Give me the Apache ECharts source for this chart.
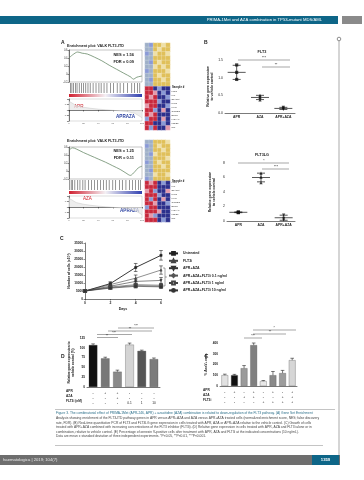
<!DOCTYPE html>
<html><head><meta charset="utf-8">
<script src="https://cdn.jsdelivr.net/npm/echarts@6/dist/echarts.min.js"></script>
<style>html,body{margin:0;padding:0;background:#fff}#c{width:364px;height:480px}</style>
</head><body><div id="c"></div>
<script>
// ---------- DATA ----------
// Panel A: GSEA running enrichment score (rank position %, ES)
const esX = [0, 5, 12, 18, 25, 35, 45, 55, 65, 75, 85, 88, 93, 100];
const esA1 = [0.40, 0.48, 0.55, 0.52, 0.50, 0.42, 0.33, 0.22, 0.12, 0.02, -0.08, -0.13, -0.08, -0.05];
const esX2 = [0, 5, 10, 20, 30, 40, 50, 60, 70, 78, 84, 90, 95, 100];
const esA2 = [0.52, 0.58, 0.55, 0.46, 0.38, 0.30, 0.22, 0.13, 0.04, -0.05, -0.11, -0.02, 0.08, 0.12];
const hitsA1 = [2, 4, 6, 9, 11, 14, 17, 20, 23, 26, 29, 33, 37, 41, 44, 48, 52, 57, 61, 66, 70, 75, 80, 86, 90, 94, 97];
const hitsA2 = [1, 3, 5, 8, 12, 15, 19, 22, 27, 31, 35, 39, 43, 47, 51, 55, 60, 64, 69, 73, 78, 83, 87, 91, 95, 98];
const metricX = [0, 10, 20, 30, 40, 50, 60, 70, 80, 90, 100];
const metricA = [0.8, 0.4, 0.25, 0.15, 0.08, 0.02, -0.03, -0.08, -0.15, -0.3, -0.7];
const nesA = ['NES = 1.56', 'NES = 1.25'];
const fdrA = ['FDR = 0.09', 'FDR = 0.11'];
// heatmap codes (row x col)
const heatA1 = [
  [0,6,1,1,2,1],[0,0,1,2,1,1],[6,0,2,1,1,2],[0,0,1,1,1,1],[0,6,1,2,1,1],
  [0,0,2,1,2,1],[6,0,1,1,1,2],[0,0,1,2,1,1],[0,6,1,1,2,1],[0,0,1,1,1,1],
  [3,3,4,6,4,4],[3,3,5,4,6,4],[3,5,3,4,4,6],[3,3,3,6,4,4],[5,3,3,4,4,6],
  [3,3,6,4,5,4],[3,5,3,4,4,4],[6,3,3,4,5,4],[3,3,4,4,6,4],[3,6,3,4,4,5]
];
const heatA2 = [
  [0,0,1,1,1,2],[6,0,1,2,1,1],[0,0,1,1,2,1],[0,6,2,1,1,1],[0,0,1,1,1,2],
  [6,0,1,2,1,1],[0,0,1,1,2,1],[0,6,1,1,1,1],[0,0,2,1,1,2],[6,0,1,1,1,1],
  [3,5,3,4,6,4],[3,3,3,4,4,4],[5,3,6,4,4,5],[3,3,3,6,4,4],[3,6,3,4,5,4],
  [3,3,5,4,4,6],[6,3,3,4,4,4],[3,3,3,5,4,4],[3,5,6,4,4,4],[3,3,3,4,6,4]
];
const heatGenes = ['FLT3','KIT','STAT5A','PIM1','MYC','CCND2','BCL2','HOXA9','MEIS1','ID1'];

// Panel B
const bCats = ['APR', 'AZA', 'APR+AZA'];
const b1Apr = [1.36, 1.15, 0.95], b1Aza = [0.50, 0.44, 0.37], b1Combo = [0.16, 0.13, 0.10];
const b1Mean = [1.15, 0.44, 0.13], b1Sd = [0.20, 0.06, 0.03];
const b2Apr = [1.25, 1.2, 1.15], b2Aza = [6.6, 6.05, 5.3], b2Combo = [0.83, 0.37, 0.14];
const b2Mean = [1.2, 6.0, 0.45], b2Sd = [0.05, 0.6, 0.35];

// Panel C
const days = [0, 2, 4, 6];
const cNames = ['Untreated', 'FLT3i', 'APR+AZA', 'APR+AZA+FLT3i 0.1 ng/ml', 'APR+AZA+FLT3i 1 ng/ml', 'APR+AZA+FLT3i 10 ng/ml'];
const cUntreated = [5000, 9600, 19700, 27300];
const cFlt3i = [5000, 9000, 13000, 18100];
const cAprAza = [5000, 8000, 11000, 11600];
const cCombo01 = [5000, 7500, 9000, 8600];
const cCombo1 = [5000, 7100, 8400, 8000];
const cCombo10 = [5000, 6800, 7900, 7600];
const cErrUntreated = [0, 1200, 2500, 3000];
const cErrFlt3i = [0, 900, 2000, 2600];
const cErrAprAza = [0, 800, 1500, 1800];
const cErrCombo = [0, 600, 1000, 1000];

// Panel D
const dApr = ['-', '+', '+', '-', '-', '-'];
const dAza = ['-', '-', '+', '-', '-', '-'];
const dFlt = ['-', '-', '-', '0.1', '1', '10'];
const dValues = [107, 73, 39, 108, 92, 71];
const dErr = [3, 3, 4, 4, 2, 3];

// Panel E
const eApr = ['-', '+', '-', '+', '-', '+', '-', '+'];
const eAza = ['-', '-', '+', '+', '-', '-', '+', '+'];
const eFlt = ['-', '-', '-', '-', '+', '+', '+', '+'];
const eValues = [100, 100, 165, 380, 45, 100, 120, 240];
const eErr = [10, 8, 25, 20, 6, 35, 25, 18];

// ---------- STYLES ----------
const FONT = 'Liberation Sans';
const dColors = ['#111', '#777', '#8a8a8a', '#d4d4d4', '#555', '#7b7b7b'];
const eColors = ['#e2e2e2', '#111', '#9a9a9a', '#808080', '#e8e8e8', '#8a8a8a', '#9c9c9c', '#d6d6d6'];
const heatColors = ['#9fb0c8', '#e0c05a', '#efe0a8', '#c8283c', '#2c2f8c', '#e49aac', '#8a9ad6'];
const cSymbols = ['rect', 'triangle', 'path://M0,0L10,0L5,10Z', 'diamond', 'emptyRect', 'circle'];

const chart = echarts.init(document.getElementById('c'), null, {renderer: 'canvas'});

const axisBase = {
  axisLine: {lineStyle: {color: '#222', width: 0.6}},
  axisTick: {lineStyle: {color: '#222', width: 0.5}, length: 1.5},
  axisLabel: {fontSize: 3.4, color: '#222', fontFamily: FONT, margin: 2},
  splitLine: {show: false}
};
function ax(extra) { return Object.assign({}, JSON.parse(JSON.stringify(axisBase)), extra); }

const grid = [], xAxis = [], yAxis = [], series = [];

// A panels
function addGsea(gTop, esXs, esYs, hits, heat, hmTop, hmH) {
  const g0 = grid.length;
  grid.push({left: 69, top: gTop, width: 73, height: 32, show: true, borderColor: '#888', borderWidth: 0.5});
  xAxis.push(ax({gridIndex: g0, type: 'value', min: 0, max: 100, show: false}));
  yAxis.push(ax({gridIndex: g0, type: 'value', min: -0.2, max: 0.6, interval: 0.2,
    axisLabel: {fontSize: 2.6, color: '#444', margin: 1.5, fontFamily: FONT}}));
  series.push({type: 'line', xAxisIndex: g0, yAxisIndex: g0, data: esXs.map((x, i) => [x, esYs[i]]),
    symbol: 'none', lineStyle: {color: '#6a8a6a', width: 0.8}, smooth: 0.3});
  const g1 = grid.length;
  grid.push({left: 69, top: gTop + 33, width: 73, height: 10});
  xAxis.push({gridIndex: g1, type: 'value', min: 0, max: 100, show: false});
  yAxis.push({gridIndex: g1, type: 'value', min: 0, max: 1, show: false});
  series.push({type: 'scatter', xAxisIndex: g1, yAxisIndex: g1, data: hits.map(h => [h, 0.5]),
    symbol: 'rect', symbolSize: [0.6, 10], itemStyle: {color: '#222'}});
  const g2 = grid.length;
  grid.push({left: 69, top: gTop + 49, width: 73, height: 22, show: true, borderColor: '#aaa', borderWidth: 0.4});
  xAxis.push(ax({gridIndex: g2, type: 'value', min: 0, max: 100, interval: 20,
    axisLabel: {fontSize: 2.4, color: '#555', margin: 1, fontFamily: FONT}}));
  yAxis.push(ax({gridIndex: g2, type: 'value', min: -1, max: 1, interval: 0.5,
    axisLabel: {fontSize: 2.4, color: '#555', margin: 1, fontFamily: FONT}}));
  series.push({type: 'line', xAxisIndex: g2, yAxisIndex: g2, data: metricX.map((x, i) => [x, metricA[i]]),
    symbol: 'none', lineStyle: {color: '#bbb', width: 0.4}, areaStyle: {color: '#e6e6e6'}});
  const g3 = grid.length;
  grid.push({left: 145, top: hmTop, width: 25, height: hmH});
  xAxis.push({gridIndex: g3, type: 'category', data: [0,1,2,3,4,5], show: false});
  yAxis.push({gridIndex: g3, type: 'category', data: heat.map((r, i) => i), inverse: true, show: false});
  const hd = [];
  heat.forEach((row, r) => row.forEach((v, c) => hd.push([c, r, v])));
  series.push({type: 'heatmap', xAxisIndex: g3, yAxisIndex: g3, data: hd,
    itemStyle: {borderColor: '#fff', borderWidth: 0.2}});
  return series.length - 1;
}
const hm1 = addGsea(50, esX, esA1, hitsA1, heatA1, 43, 87);
const hm2 = addGsea(147, esX2, esA2, hitsA2, heatA2, 140, 82);

// mean/SD renderer
function meanSd(params, api) {
  const c = api.coord([api.value(0), api.value(1)]);
  const hi = api.coord([api.value(0), api.value(1) + api.value(2)]);
  const lo = api.coord([api.value(0), api.value(1) - api.value(2)]);
  const s = {stroke: '#111', lineWidth: 0.7};
  return {type: 'group', children: [
    {type: 'line', shape: {x1: c[0] - 9, y1: c[1], x2: c[0] + 9, y2: c[1]}, style: s},
    {type: 'line', shape: {x1: c[0], y1: hi[1], x2: c[0], y2: lo[1]}, style: s},
    {type: 'line', shape: {x1: c[0] - 4, y1: hi[1], x2: c[0] + 4, y2: hi[1]}, style: s},
    {type: 'line', shape: {x1: c[0] - 4, y1: lo[1], x2: c[0] + 4, y2: lo[1]}, style: s}
  ]};
}
function addDot(left, top, w, h, max, interval, pts, mean, sd, fmt) {
  const g = grid.length;
  grid.push({left, top, width: w, height: h});
  xAxis.push(ax({gridIndex: g, type: 'category', data: bCats, axisTick: {show: false},
    axisLabel: {fontSize: 3.4, color: '#222', fontFamily: FONT, fontWeight: 'bold', margin: 3}}));
  yAxis.push(ax({gridIndex: g, type: 'value', min: 0, max, interval,
    axisLabel: {fontSize: 3.4, color: '#222', fontFamily: FONT, margin: 2, formatter: fmt},
    name: 'Relative gene expression\nto vehicle control', nameLocation: 'middle', nameGap: 11,
    nameTextStyle: {fontSize: 3.4, fontWeight: 'bold', fontFamily: FONT, color: '#222', lineHeight: 4}}));
  const syms = ['rect', 'triangle', 'path://M0,0L10,0L5,10Z'];
  pts.forEach((arr, i) => series.push({type: 'scatter', xAxisIndex: g, yAxisIndex: g, symbol: syms[i], symbolSize: 3.2,
    data: arr.map(v => [i, v]), itemStyle: {color: '#111'}}));
  series.push({type: 'custom', xAxisIndex: g, yAxisIndex: g, renderItem: meanSd,
    data: mean.map((m, i) => [i, m, sd[i]]), encode: {x: 0, y: 1}, z: 5});
}
addDot(225, 60, 70, 53, 1.5, 0.5, [b1Apr, b1Aza, b1Combo], b1Mean, b1Sd, v => v.toFixed(1));
addDot(227, 163, 68, 58, 8, 2, [b2Apr, b2Aza, b2Combo], b2Mean, b2Sd, v => String(v));

// error bar renderer
function errBar(upperOnly) {
  return function (params, api) {
    const x = api.value(0), y = api.value(1), e = api.value(2);
    const hi = api.coord([x, y + e]), lo = api.coord([x, upperOnly ? y : y - e]);
    const s = {stroke: '#111', lineWidth: 0.55};
    const ch = [
      {type: 'line', shape: {x1: hi[0], y1: hi[1], x2: lo[0], y2: lo[1]}, style: s},
      {type: 'line', shape: {x1: hi[0] - 1.8, y1: hi[1], x2: hi[0] + 1.8, y2: hi[1]}, style: s}];
    if (!upperOnly) ch.push({type: 'line', shape: {x1: lo[0] - 1.8, y1: lo[1], x2: lo[0] + 1.8, y2: lo[1]}, style: s});
    return {type: 'group', children: ch};
  };
}

// Panel C
const gC = grid.length;
grid.push({left: 85, top: 243, width: 76, height: 56});
xAxis.push(ax({gridIndex: gC, type: 'value', min: 0, max: 6, interval: 2, name: 'Days', nameLocation: 'middle', nameGap: 8,
  nameTextStyle: {fontSize: 3.6, fontWeight: 'bold', fontFamily: FONT, color: '#222'},
  axisLabel: {fontSize: 3.4, color: '#222', fontFamily: FONT, margin: 3, fontWeight: 'bold'}}));
yAxis.push(ax({gridIndex: gC, type: 'value', min: 0, max: 35000, interval: 5000,
  name: 'Number of cells (x10³)', nameLocation: 'middle', nameGap: 13,
  nameTextStyle: {fontSize: 3.4, fontWeight: 'bold', fontFamily: FONT, color: '#222'},
  axisLabel: {fontSize: 3.2, color: '#222', fontFamily: FONT, margin: 2, fontWeight: 'bold', formatter: v => String(v)}}));
const cSeries = [cUntreated, cFlt3i, cAprAza, cCombo01, cCombo1, cCombo10];
const cErrs = [cErrUntreated, cErrFlt3i, cErrAprAza, cErrCombo, cErrCombo, cErrCombo];
const cColors = ['#222', '#444', '#333', '#555', '#444', '#333'];
cSeries.forEach((arr, i) => {
  series.push({type: 'line', name: cNames[i], xAxisIndex: gC, yAxisIndex: gC, data: days.map((d, j) => [d, arr[j]]),
    symbol: cSymbols[i], symbolSize: 2.2, lineStyle: {color: cColors[i], width: i === 0 ? 0.9 : 0.6},
    itemStyle: {color: cColors[i], borderWidth: 0.5, borderColor: cColors[i]}});
  series.push({type: 'custom', xAxisIndex: gC, yAxisIndex: gC, renderItem: errBar(false),
    data: days.map((d, j) => [d, arr[j], cErrs[i][j]]), encode: {x: 0, y: 1}});
});

// Panel D & E
function addBars(left, top, w, h, max, interval, vals, errs, colors, rows, yname) {
  const g = grid.length;
  grid.push({left, top, width: w, height: h});
  xAxis.push(ax({gridIndex: g, type: 'category', data: vals.map((v, i) => i), axisTick: {show: false},
    axisLabel: {fontSize: 3.2, color: '#222', fontFamily: FONT, margin: 4, lineHeight: 5,
      formatter: (v) => rows.map(r => r[+v]).join('\n')}}));
  yAxis.push(ax({gridIndex: g, type: 'value', min: 0, max, interval,
    name: yname, nameLocation: 'middle', nameGap: 12,
    nameTextStyle: {fontSize: 3.2, fontWeight: 'bold', fontFamily: FONT, color: '#222', lineHeight: 4},
    axisLabel: {fontSize: 3.2, color: '#222', fontFamily: FONT, margin: 2, fontWeight: 'bold'}}));
  series.push({type: 'bar', xAxisIndex: g, yAxisIndex: g, data: vals, barWidth: '70%',
    itemStyle: {color: p => colors[p.dataIndex], borderColor: '#444', borderWidth: 0.3}});
  series.push({type: 'custom', xAxisIndex: g, yAxisIndex: g, renderItem: errBar(true),
    data: vals.map((v, i) => [i, v, errs[i]]), encode: {x: 0, y: 1}, z: 5});
}
addBars(87, 338, 73, 49, 125, 25, dValues, dErr, dColors, [dApr, dAza, dFlt], 'Relative gene expression to\nvehicle control (%)');
addBars(220, 343, 77, 43, 400, 100, eValues, eErr, eColors, [eApr, eAza, eFlt], '% AnnV+ cells');

// ---------- GRAPHICS (page decoration) ----------
const T = (x, y, text, o) => Object.assign({type: 'text', x, y, style: Object.assign({text, fontFamily: FONT, fontSize: 4, fill: '#222'}, o || {})});
const L = (x1, y1, x2, y2, c, w) => ({type: 'line', shape: {x1, y1, x2, y2}, style: {stroke: c || '#222', lineWidth: w || 0.5}});
const graphics = [
  {type: 'rect', shape: {x: 0, y: 16, width: 338, height: 8}, style: {fill: '#0e6688'}},
  {type: 'rect', shape: {x: 342, y: 16, width: 20, height: 8}, style: {fill: '#8a8a8a'}},
  T(322, 20, 'PRIMA-1Met and AZA combination in TP53-mutant MDS/AML', {fill: '#fff', fontSize: 4.2, align: 'right', verticalAlign: 'middle'}),
  L(339, 41, 339, 455, '#555', 0.5),
  {type: 'circle', shape: {cx: 339, cy: 39, r: 1.8}, style: {fill: '#fff', stroke: '#444', lineWidth: 0.6}},
  T(61, 40, 'A', {fontSize: 5, fontWeight: 'bold'}),
  T(204, 40, 'B', {fontSize: 5, fontWeight: 'bold'}),
  T(60, 236, 'C', {fontSize: 5, fontWeight: 'bold'}),
  T(61, 354, 'D', {fontSize: 5, fontWeight: 'bold'}),
  T(205, 354, 'E', {fontSize: 5, fontWeight: 'bold'}),
  // GSEA texts
  T(67, 44, 'Enrichment plot: VALK FLT3-ITD', {fontSize: 3.7, fontWeight: 'bold'}),
  T(134, 53, nesA[0], {fontSize: 4, fontWeight: 'bold', align: 'right'}),
  T(134, 60, fdrA[0], {fontSize: 4, fontWeight: 'bold', align: 'right'}),
  {type: 'rect', shape: {x: 69, y: 94, width: 73, height: 3}, style: {fill: new echarts.graphic.LinearGradient(0, 0, 1, 0, [{offset: 0, color: '#d02030'}, {offset: 0.5, color: '#f4f0f4'}, {offset: 1, color: '#3040b0'}])}},
  T(74, 104, 'APR', {fontSize: 4.6, fill: '#d0202a'}),
  T(116, 114, 'APRAZA', {fontSize: 4.6, fill: '#2a40a0', fontWeight: 'bold'}),
  T(67, 139, 'Enrichment plot: VALK FLT3-ITD', {fontSize: 3.7, fontWeight: 'bold'}),
  T(134, 149, nesA[1], {fontSize: 4, fontWeight: 'bold', align: 'right'}),
  T(134, 156, fdrA[1], {fontSize: 4, fontWeight: 'bold', align: 'right'}),
  {type: 'rect', shape: {x: 69, y: 191, width: 73, height: 3}, style: {fill: new echarts.graphic.LinearGradient(0, 0, 1, 0, [{offset: 0, color: '#d02030'}, {offset: 0.5, color: '#f4f0f4'}, {offset: 1, color: '#3040b0'}])}},
  T(83, 196, 'AZA', {fontSize: 4.6, fill: '#d0202a'}),
  T(120, 208, 'APRAZA', {fontSize: 4.6, fill: '#2a40a0', fontWeight: 'bold'}),
  T(172, 86, 'Sample #', {fontSize: 2.8, fontWeight: 'bold'}),
  T(172, 180, 'Sample #', {fontSize: 2.8, fontWeight: 'bold'}),
  // B titles and significance
  T(262, 50, 'FLT3', {fontSize: 3.8, fontWeight: 'bold', align: 'center'}),
  L(238, 60, 290, 60, '#222', 0.4), T(264, 56.5, '***', {fontSize: 3.4, align: 'center'}),
  L(262, 67, 290, 67, '#222', 0.4), T(276, 63.5, '**', {fontSize: 3.4, align: 'center'}),
  T(262, 153, 'FLT3LG', {fontSize: 3.8, fontWeight: 'bold', align: 'center'}),
  L(238, 163, 289, 163, '#222', 0.4), T(264, 159.5, '*', {fontSize: 3.4, align: 'center'}),
  L(262, 169, 289, 169, '#222', 0.4), T(276, 165.5, '***', {fontSize: 3.4, align: 'center'}),
  // C bracket
  L(163, 268, 165, 268, '#222', 0.4), L(165, 268, 165, 286, '#222', 0.4), L(163, 286, 165, 286, '#222', 0.4),
  L(165, 277, 167, 277, '#222', 0.4),
  // D significance
  L(118, 328, 154, 328, '#222', 0.4), T(136, 325, '***', {fontSize: 3.2, align: 'center'}),
  L(108, 331, 152, 331, '#222', 0.4), T(130, 328, '**', {fontSize: 3.2, align: 'center'}),
  L(97, 334.5, 132, 334.5, '#222', 0.4), T(114, 331.5, '***', {fontSize: 3.2, align: 'center'}),
  L(97, 337.5, 118, 337.5, '#222', 0.4), T(107, 334.5, '**', {fontSize: 3.2, align: 'center'}),
  T(66, 390, 'APR', {fontSize: 3.2, fontWeight: 'bold'}),
  T(66, 395, 'AZA', {fontSize: 3.2, fontWeight: 'bold'}),
  T(66, 400, 'FLT3i (nM)', {fontSize: 3.2, fontWeight: 'bold'}),
  // E significance
  L(253, 330, 296, 330, '#222', 0.4), T(274, 327, '*', {fontSize: 3.2, align: 'center'}),
  L(253, 334, 286, 334, '#222', 0.4), T(270, 331, '**', {fontSize: 3.2, align: 'center'}),
  L(244, 338, 262, 338, '#222', 0.4), T(253, 335, '***', {fontSize: 3.2, align: 'center'}),
  T(203, 389, 'APR', {fontSize: 3.2, fontWeight: 'bold'}),
  T(203, 394, 'AZA', {fontSize: 3.2, fontWeight: 'bold'}),
  T(203, 399, 'FLT3i', {fontSize: 3.2, fontWeight: 'bold'}),
  // caption
  L(55, 409.5, 335, 409.5, '#888', 0.5),
  L(55, 445.5, 323, 445.5, '#888', 0.5),
  {type: 'rect', shape: {x: 0, y: 455, width: 340, height: 10}, style: {fill: '#6e6e6e'}},
  {type: 'rect', shape: {x: 312, y: 455, width: 27, height: 10}, style: {fill: '#0e6688'}},
  T(3, 460, 'haematologica | 2019; 104(7)', {fill: '#e8e8e8', fontSize: 4.2, verticalAlign: 'middle'}),
  T(325.5, 460, '1359', {fill: '#fff', fontSize: 4.2, align: 'center', verticalAlign: 'middle', fontWeight: 'bold'})
];
heatGenes.forEach((gname, i) => {
  graphics.push(T(171.5, 90 + i * 4, gname, {fontSize: 2.4, fill: '#333'}));
  graphics.push(T(171.5, 181 + i * 4, gname, {fontSize: 2.4, fill: '#333'}));
});
const caption = [
  'Figure 3. The combinatorial effect of PRIMA-1Met (APR-246, APR) + azacitidine (AZA) combination is related to down-regulation of the FLT3 pathway. (A) Gene Set Enrichment',
  'Analysis showing enrichment of the FLT3-ITD pathway genes in APR versus APR+AZA and AZA versus APR+AZA treated cells (normalized enrichment score, NES; false discovery',
  'rate, FDR). (B) Real-time quantitative PCR of FLT3 and FLT3LG gene expression in cells treated with APR, AZA or APR+AZA relative to the vehicle control. (C) Growth of cells',
  'treated with APR+AZA combined with increasing concentrations of the FLT3 inhibitor (FLT3i). (D) Relative gene expression in cells treated with APR, AZA and FLT3i alone or in',
  'combination, relative to vehicle control. (E) Percentage of annexin V-positive cells after treatment with APR, AZA and FLT3i at the indicated concentrations (10 ng/mL).',
  'Data are mean ± standard deviation of three independent experiments. *P<0.05, **P<0.01, ***P<0.001.'
];
caption.forEach((line, i) => graphics.push(T(56, 412 + i * 4.6, line, {fontSize: 3.3, fill: i === 0 ? '#2a6f8a' : '#444'})));

const option = {
  backgroundColor: '#fff',
  animation: false,
  textStyle: {fontFamily: FONT},
  grid, xAxis, yAxis, series,
  visualMap: [{type: 'piecewise', show: false, seriesIndex: [hm1, hm2], dimension: 2,
    pieces: heatColors.map((c, i) => ({value: i, color: c}))}],
  legend: {data: cNames, orient: 'vertical', left: 168, top: 251, itemGap: 2.6, itemWidth: 9, itemHeight: 3.5,
    textStyle: {fontSize: 3.5, fontFamily: FONT, fontWeight: 'bold', color: '#222'}, padding: 0},
  graphic: graphics
};
chart.setOption(option);
</script></body></html>
